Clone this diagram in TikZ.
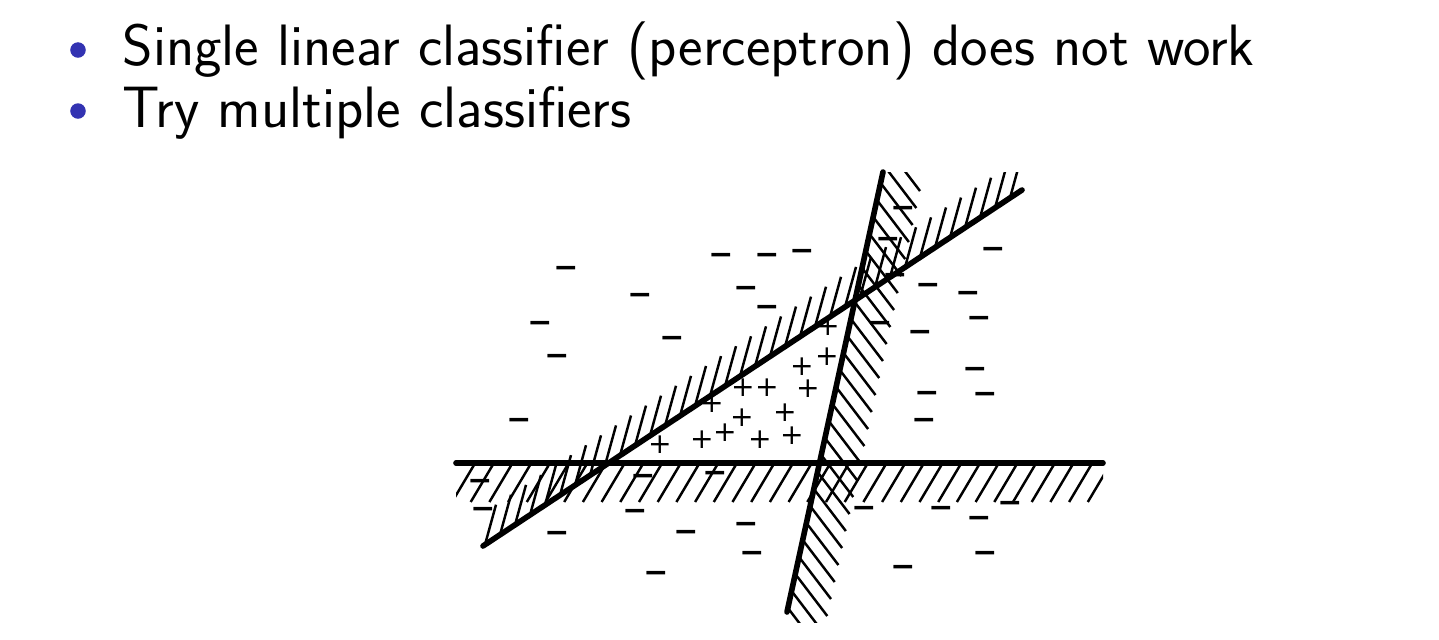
\documentclass[tikz,border=0pt]{standalone}
\usepackage{fontspec}
\newfontfamily\signfont{DejaVu Sans}
\usetikzlibrary{positioning}

\definecolor{beamerblue}{rgb}{0.2,0.2,0.7}

\begin{document}
\begin{tikzpicture}[
  x=0.01cm, y=-0.01cm,
  item/.style={anchor=base west, inner sep=0, font=\sffamily\fontsize{16.6}{20}\selectfont},
  ball/.style={circle, fill=beamerblue, inner sep=0, minimum size=0.155cm},
  divider/.style={line width=1.6pt, line cap=round},
  hatch/.style={line width=0.7pt},
  possample/.style={inner sep=0, font=\signfont\fontsize{8}{8}\selectfont},
  negsample/.style={inner sep=0, font=\signfont\bfseries\fontsize{8.5}{8.5}\selectfont}
]
  \useasboundingbox (0,0) rectangle (1439,639);

  % bullets
  \node[ball] (b1) at (78,50) {};
  \node[ball] (b2) at (78,111) {};
  \node[item] (t1) at (122,65) {Single linear classifier (perceptron) does not work};
  \node[item] (t2) at (122,127) {Try multiple classifiers};

  % the three lines
  \coordinate (hA) at (456,463);
  \coordinate (hB) at (1103,463);
  \coordinate (dA) at (483,546);
  \coordinate (dB) at (1022,190);
  \coordinate (sA) at (787,612);
  \coordinate (sB) at (883,172);

  \begin{scope}
    \clip (456,440) rectangle (1103,520);
    \foreach \x in {474,492.7,...,1125}
      \draw[hatch] (\x,465) -- ++(-22,37);
  \end{scope}

  \begin{scope}
    \clip (0,172) rectangle (1439,622);
    \foreach \i in {0,...,35}{
      \pgfmathsetmacro\hx{485+15*\i}
      \pgfmathsetmacro\hy{546-0.6605*(\hx-483)}
      \draw[hatch] (\hx,\hy) -- ++(11,-40);
    }
    \foreach \i in {0,...,27}{
      \pgfmathsetmacro\hy{608-17*\i}
      \pgfmathsetmacro\hx{787+0.2182*(612-\hy)}
      \draw[hatch] (\hx,\hy) -- ++(32,42);
    }
  \end{scope}

  \draw[divider] (hA) -- (hB);
  \draw[divider] (dA) -- (dB);
  \draw[divider] (sA) -- (sB);

  % positive samples
  \foreach \x/\y [count=\k] in {828/327, 827/357, 802/367, 743/388, 767/388, 808/389,
      712/404, 785/413, 742/418, 725/433, 702/440, 660/445, 760/440, 792/436}
    \node[possample] (p\k) at (\x,\y) {+};

  % negative samples
  \foreach \x/\y [count=\k] in {566/272, 640/299, 540/327, 557/360, 721/259, 767/259,
      802/255, 746/292, 767/311, 672/342, 903/212, 888/243, 895/279, 928/289,
      968/297, 993/253, 979/322, 920/336, 880/327, 975/373, 927/397, 985/398,
      924/424, 519/424, 480/485, 483/513, 643/480, 715/477, 635/515, 557/537,
      686/536, 746/528, 752/557, 656/577, 864/512, 941/512, 1010/507, 979/522,
      985/557, 903/571}
    \node[negsample] (n\k) at (\x,\y) {−};
\end{tikzpicture}
\end{document}
